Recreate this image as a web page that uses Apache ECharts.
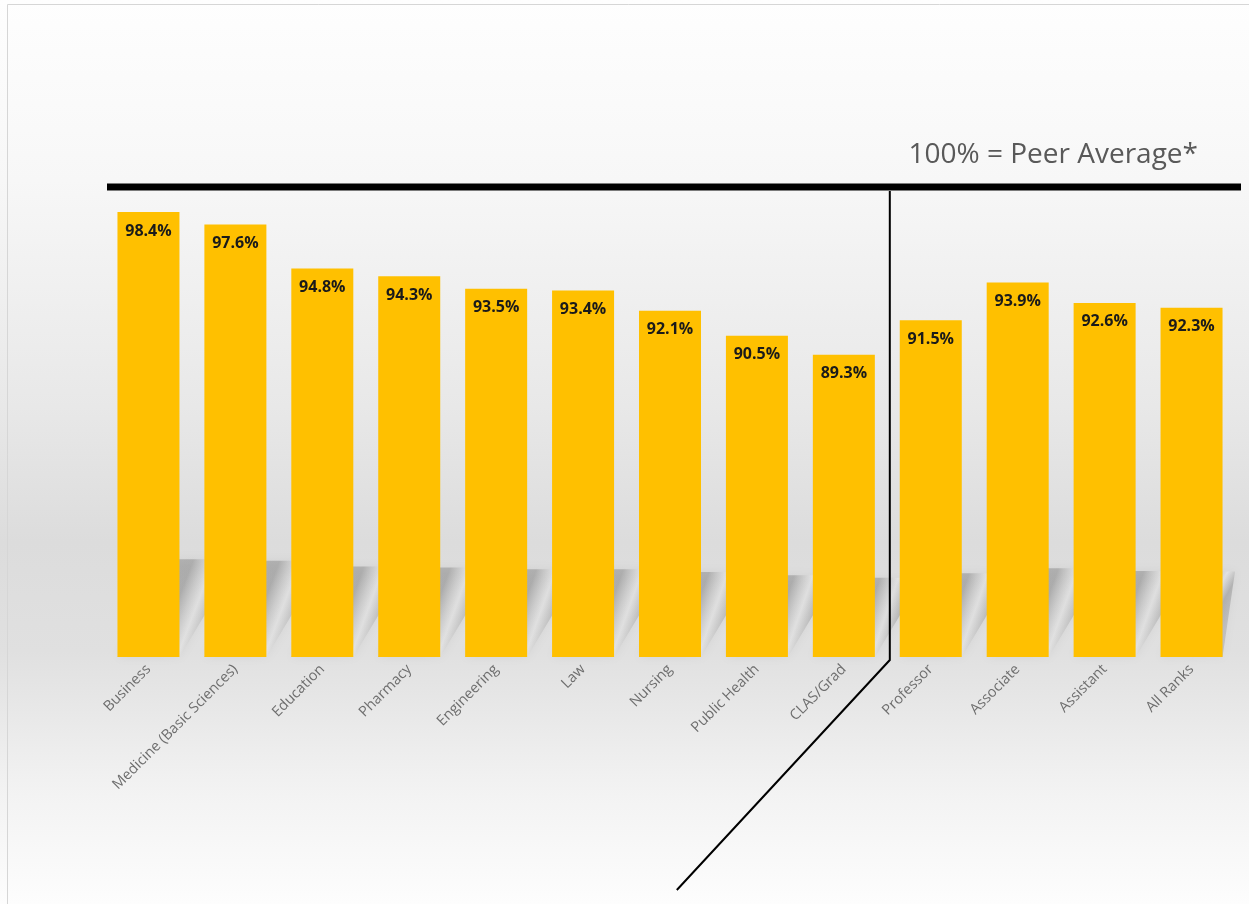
<!DOCTYPE html>
<html>
<head>
<meta charset="utf-8">
<script src="https://cdn.jsdelivr.net/npm/echarts@6/dist/echarts.min.js"></script>
<style>
html,body{margin:0;padding:0;background:#fff;}
#chart{width:1249px;height:904px;}
</style>
</head>
<body>
<div id="chart"></div>
<script>
const categories = ['Business','Medicine (Basic Sciences)','Education','Pharmacy','Engineering','Law','Nursing','Public Health','CLAS/Grad','Professor','Associate','Assistant','All Ranks'];
const values = [98.4, 97.6, 94.8, 94.3, 93.5, 93.4, 92.1, 90.5, 89.3, 91.5, 93.9, 92.6, 92.3];
const peerAverage = 100;
const axisMin = 70;
const noteText = '100% = Peer Average*';
const separatorAfterIndex = 8;

const chart = echarts.init(document.getElementById('chart'), null, {renderer:'canvas'});

const shadowData = values.map((v,i)=>[i,v]);

chart.setOption({
  animation:false,
  backgroundColor:{
    type:'linear', x:0, y:0, x2:0, y2:1,
    colorStops:[
      {offset:0, color:'#fefefe'},
      {offset:0.2, color:'#f7f7f7'},
      {offset:0.45, color:'#e8e8e8'},
      {offset:0.6, color:'#dcdcdc'},
      {offset:0.72, color:'#e0e0e0'},
      {offset:0.88, color:'#f3f3f3'},
      {offset:1, color:'#fdfdfd'}
    ]
  },
  grid:{left:105, right:14, top:187, bottom:247, containLabel:false},
  xAxis:{
    type:'category',
    data:categories,
    axisLine:{show:false},
    axisTick:{show:false},
    axisLabel:{
      rotate:45, margin:10, interval:0,
      color:'#6e6e6e', fontSize:14.5, fontFamily:'Open Sans'
    }
  },
  yAxis:{
    type:'value', min:axisMin, max:peerAverage,
    show:false, splitLine:{show:false}
  },
  series:[
    {
      type:'custom',
      z:1,
      silent:true,
      data:shadowData,
      renderItem:function(params, api){
        const idx = api.value(0);
        const top = api.coord([idx, api.value(1)]);
        const base = api.coord([idx, axisMin]);
        const half = 31;
        const h = 40 + (base[1]-top[1])*0.13;
        const dx = h*0.6;
        const x0 = base[0]-half, x1 = base[0]+half, y0 = base[1];
        const cs = params.coordSys;
        let pts = [[x0,y0],[x1,y0],[x1+dx,y0-h],[x0+dx,y0-h]];
        pts = echarts.graphic.clipPointsByRect(pts, {x:cs.x, y:cs.y, width:cs.width, height:cs.height});
        return {
          type:'polygon',
          shape:{points:pts},
          style:{
            fill:{type:'linear',x:0,y:0,x2:1,y2:0.47,colorStops:[
              {offset:0,color:'rgba(95,95,95,0.30)'},
              {offset:0.55,color:'rgba(95,95,95,0.32)'},
              {offset:0.7,color:'rgba(255,255,255,0.25)'},
              {offset:0.82,color:'rgba(95,95,95,0.30)'},
              {offset:1,color:'rgba(95,95,95,0.22)'}]},
            shadowBlur:10, shadowColor:'rgba(0,0,0,0.18)'
          }
        };
      }
    },
    {
      type:'bar',
      z:3,
      data:values,
      barWidth:62,
      itemStyle:{color:'#FFC000'},
      label:{
        show:true, position:'insideTop', distance:11,
        formatter:p=>p.value.toFixed(1)+'%',
        color:'#1a1a1a', fontSize:16, fontWeight:'bold', fontFamily:'Open Sans'
      }
    }
  ]
});

function drawDecor(){
  const pTop = chart.convertToPixel({xAxisIndex:0,yAxisIndex:0},[separatorAfterIndex, peerAverage]);
  const pBase = chart.convertToPixel({xAxisIndex:0,yAxisIndex:0},[separatorAfterIndex, axisMin]);
  const band = chart.convertToPixel({xAxisIndex:0},separatorAfterIndex+1) - chart.convertToPixel({xAxisIndex:0},separatorAfterIndex);
  const sx = pTop[0] + band/2 + 2.5;
  chart.setOption({
    graphic:[
      {type:'rect', z:0, silent:true, shape:{x:7.5,y:4.5,width:1260,height:920}, style:{fill:null, stroke:'#d6d6d6', lineWidth:1}},
      {type:'line', z:10, silent:true,
       shape:{x1:107, y1:pTop[1], x2:1241, y2:pTop[1]},
       style:{stroke:'#000', lineWidth:7}},
      {type:'polyline', z:10, silent:true,
       shape:{points:[[sx,pTop[1]+4],[sx,pBase[1]+3],[sx-213,pBase[1]+233]]},
       style:{stroke:'#000', lineWidth:2, fill:null}},
      {type:'text', z:10, right:51, top:141,
       style:{text:noteText, fill:'#595959', fontSize:28, fontFamily:'Open Sans'}}
    ]
  });
}
drawDecor();
</script>
</body>
</html>
